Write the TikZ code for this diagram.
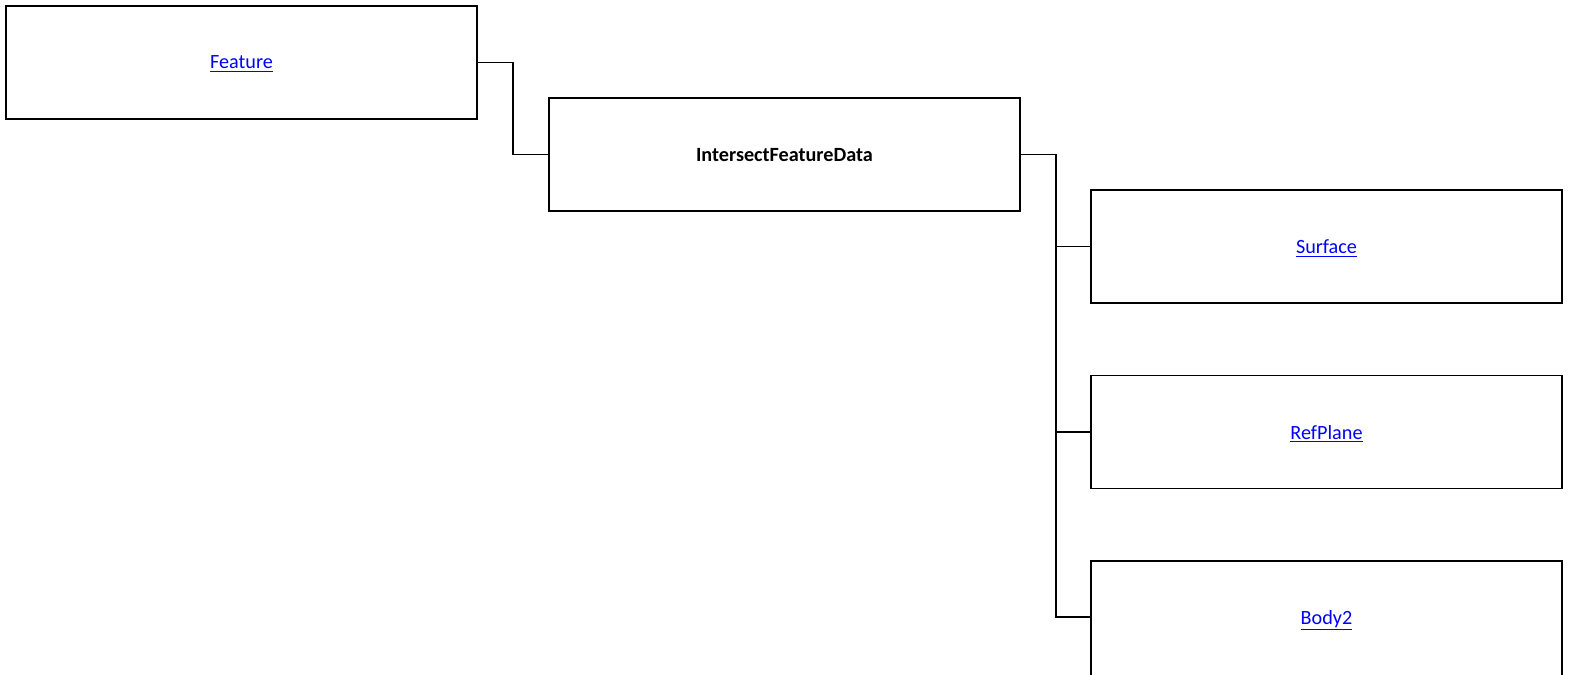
\documentclass[tikz,border=0pt]{standalone}
\usepackage{fontspec}
\setmainfont{Carlito}
\usetikzlibrary{positioning}
\definecolor{linkblue}{RGB}{0,0,255}

\begin{document}
\begin{tikzpicture}[x=.02cm,y=-.02cm,line width=.8pt,font=\fontsize{11.5}{14}\selectfont,
    box/.style={draw=black,minimum width=471*.02cm,minimum height=113*.02cm,inner sep=0pt,text depth=0pt},
    link/.style={text=linkblue}]
    \useasboundingbox (0,0) rectangle (1573,674);
    \node[box,link] (feature) at (241.5,62.5) {\underline{Feature}};
    \node[box] (ifd) at (784.5,154.5) {\textbf{IntersectFeatureData}};
    \node[box,link] (surface) at (1326.5,246.5) {\underline{Surface}};
    \node[box,link] (refplane) at (1326.5,432) {\underline{RefPlane}};
    \node[box,minimum height=117*.02cm] (body) at (1326.5,619.5) {};
    \node[link,inner sep=0pt,text depth=0pt] (bodylab) at (1326.5,617) {\underline{Body2}};
    \draw (feature.east) -- (513,62.5) |- (ifd.west);
    \foreach \kid/\yy in {surface/246.5,refplane/432,body/617}
      \draw (ifd.east) -- (1056,154.5) |- (\kid.west |- 0,\yy);
\end{tikzpicture}
\end{document}
